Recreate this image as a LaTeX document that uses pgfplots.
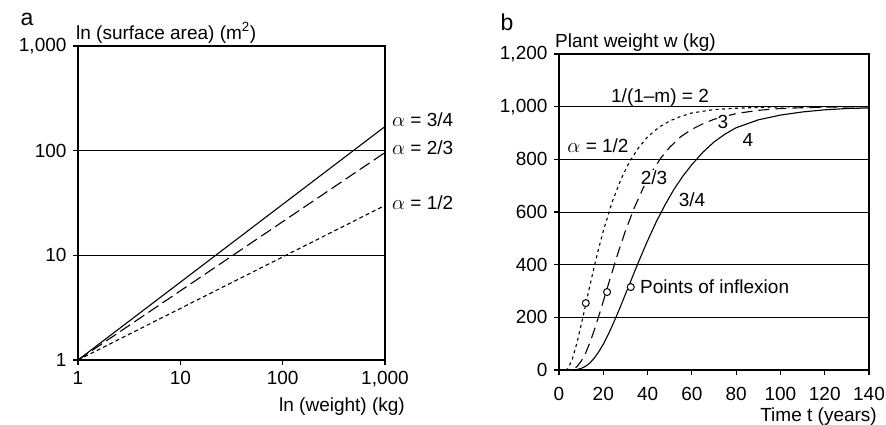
\documentclass[border=0pt]{standalone}
\usepackage{pgfplots}
\pgfplotsset{compat=1.18}
\usepackage{fontspec}
\setmainfont{Liberation Sans}
\begin{document}
\fontsize{19bp}{22bp}\selectfont
\begin{tikzpicture}
\path[use as bounding box] (0bp,0bp) rectangle (886bp,-425bp);
\pgfplotsset{
 common/.style={scale only axis, axis line style={line width=1.1bp},
   tick align=outside, tick pos=left, major tick length=5bp,
   every tick/.style={black,line width=1.1bp},
   ymajorgrids, major grid style={black,line width=0.9bp},
   ticklabel style={font=\fontsize{19bp}{22bp}\selectfont},
   /pgf/number format/assume math mode=true},
}
% ---------------- panel a ----------------
\begin{axis}[common, at={(78bp,-360bp)}, anchor=south west,
  width=307bp, height=314bp,
  xmode=log, ymode=log, xmin=1, xmax=1000, ymin=1, ymax=1000,
  xtick={1,10,100,1000}, ytick={1,10,100,1000},
  xticklabels={1,10,100,{1,000}}, yticklabels={1,10,100,{1,000}},
  xminorticks=false, yminorticks=false]
\addplot[black, line width=1.1bp] coordinates {(1,1) (1000,170)};
\addplot[black, line width=1.1bp, dash pattern=on 12bp off 5bp] coordinates {(1,1) (1000,96)};
\addplot[black, line width=1.1bp, dash pattern=on 4bp off 3bp] coordinates {(1,1) (1000,30)};
\end{axis}
% ---------------- panel b ----------------
\begin{axis}[common, at={(559bp,-370bp)}, anchor=south west,
  width=310bp, height=316bp,
  xmin=0, xmax=140, ymin=0, ymax=1200,
  xtick={0,20,40,60,80,100,120,140}, xticklabels={0,20,40,60,80,100,120,140},
  xticklabel style={yshift=-6bp},
  ytick={0,200,400,600,800,1000,1200},
  yticklabels={0,200,400,600,800,{1,000},{1,200}}]
% alpha = 1/2, 1/(1-m) = 2
\addplot[black, line width=1.1bp, dash pattern=on 3bp off 3.5bp] coordinates {
(0,0) (3,0) (4,5) (6,41) (8,100) (10,171) (12,246) (14,322) (16,396) (18,464)
(20,528) (24,638) (28,725) (32,793) (36,845) (40,885) (45,921) (50,946)
(55,963) (60,976) (70,989) (80,994) (90,997) (100,999) (110,999) (120,1000) (140,1000)};
% alpha = 2/3, 1/(1-m) = 3
\addplot[black, line width=1.1bp, dash pattern=on 11bp off 6bp] coordinates {
(0,0) (4,0) (6,2) (8,12) (10,33) (12,64) (14,105) (16,153) (18,206) (20,261)
(22,317) (24,372) (26,427) (28,479) (30,528) (34,616) (38,691) (42,754)
(46,805) (50,846) (55,886) (60,914) (65,935) (70,952) (80,974) (90,986)
(100,993) (110,996) (120,998) (140,1000)};
% alpha = 3/4, 1/(1-m) = 4
\addplot[black, line width=1.1bp] coordinates {
(0,0) (4,0) (6,0.2) (8,1.6) (10,6) (12,14) (14,27) (16,46) (18,70) (20,98)
(22,131) (24,167) (26,206) (28,246) (30,288) (32,329) (34,371) (36,412)
(38,452) (40,491) (44,564) (48,629) (52,687) (56,737) (60,780) (65,827)
(70,866) (75,896) (80,920) (90,950) (100,968) (110,980) (120,988) (130,993) (140,995)};
% points of inflexion
\addplot[only marks, mark=*, mark size=3.5bp, mark options={fill=white, draw=black, line width=1bp}]
 coordinates {(12.1,254) (21.7,296) (32.4,315)};
\end{axis}
% ---------------- labels ----------------
\node[font=\fontsize{23bp}{25bp}\selectfont, inner sep=0] at (27bp,-19bp) {a};
\node[anchor=base west, inner sep=0] at (76bp,-39bp) {ln (surface area) (m\textsuperscript{2})};
\node[anchor=west, inner sep=0] at (392bp,-120bp) {$\alpha$ = 3/4};
\node[anchor=west, inner sep=0] at (392bp,-148bp) {$\alpha$ = 2/3};
\node[anchor=west, inner sep=0] at (392bp,-203bp) {$\alpha$ = 1/2};
\node[anchor=east, inner sep=0] at (405bp,-407bp) {ln (weight) (kg)};
\node[font=\fontsize{23bp}{25bp}\selectfont, inner sep=0] at (507bp,-22bp) {b};
\node[anchor=base west, inner sep=0] at (555bp,-47bp) {Plant weight w (kg)};
\node[inner sep=0] at (660bp,-98bp) {1/(1\textendash m) = 2};
\node[fill=white, inner sep=1bp] at (723bp,-122bp) {3};
\node[inner sep=0] at (748bp,-140bp) {4};
\node[inner sep=0] at (598bp,-146bp) {$\alpha$ = 1/2};
\node[fill=white, inner sep=1bp] at (654bp,-178bp) {2/3};
\node[inner sep=0] at (692bp,-200bp) {3/4};
\node[anchor=west, inner sep=0] at (640bp,-287bp) {Points of inflexion};
\node[anchor=east, inner sep=0] at (877bp,-417bp) {Time t (years)};
\end{tikzpicture}
\end{document}
